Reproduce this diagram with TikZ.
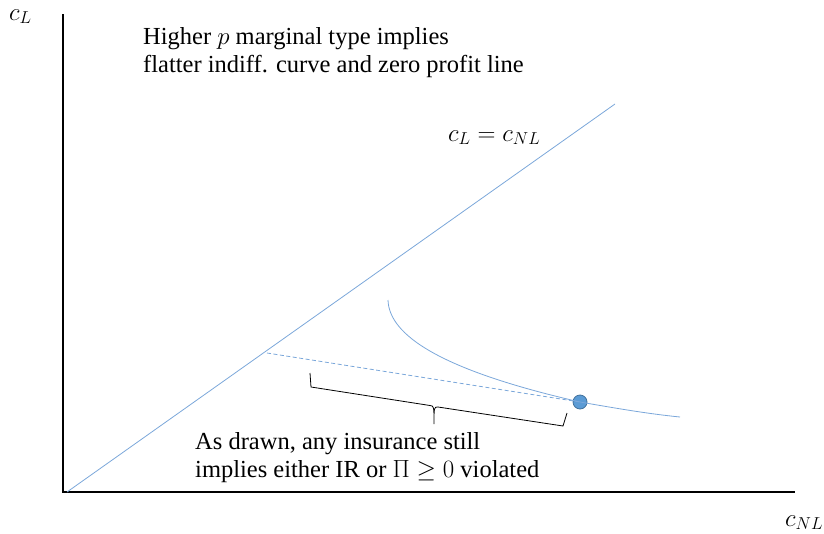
\documentclass[tikz,border=0pt]{standalone}
\usepackage{fontspec}
\setmainfont{Liberation Serif}
\definecolor{lineblue}{RGB}{123,167,218}
\definecolor{dotfill}{RGB}{91,155,213}
\definecolor{dotedge}{RGB}{65,113,156}
\begin{document}
\begin{tikzpicture}[x=1pt,y=-1pt,
  blueline/.style={draw=lineblue, line width=0.8pt},
  axis/.style={draw=black, line width=1.4pt},
  lbl/.style={inner sep=0pt, anchor=base west, font=\fontsize{23.5}{27}\selectfont},
  txt/.style={inner sep=0pt, anchor=base west, align=left, font=\fontsize{24.5}{27.5}\selectfont}]
\useasboundingbox (0,0) rectangle (824,533);
\coordinate (O) at (63,492);
\coordinate (Ytop) at (63,14);
\coordinate (Xend) at (795,492);
\draw[axis] (Ytop) -- (O) -- (Xend);
\coordinate (D0) at (67,492);
\coordinate (D1) at (615,104);
\draw[blueline] (D0) -- (D1);
\coordinate (Z0) at (267,353);
\node[circle, fill=dotfill, draw=dotedge, line width=0.8pt, minimum size=14pt, inner sep=0pt] (dot) at (580,402) {};
\draw[blueline, dash pattern=on 4pt off 2.5pt] (Z0) -- (dot.center);
\coordinate (C0) at (388,300);
\coordinate (C1) at (680,417);
\draw[blueline] (C0) .. controls (389,335) and (440,370) .. (dot.center) .. controls (620,409) and (650,414) .. (C1);
\draw[line width=0.8pt] (310,373) -- (311,387) -- (430,405.5) .. controls (434,406) .. (434,424)
  (434,424) .. controls (434,407) .. (438,407) -- (563,426) -- (567,413);
\node[lbl] (cl) at (9,20) {$c_L$};
\node[lbl] (cnl) at (785,526) {$c_{NL}$};
\node[lbl] (eq) at (448,141) {$c_L = c_{NL}$};
\node[txt] (top) at (143,72) {Higher $p$ marginal type implies\\flatter indiff. curve and zero profit line};
\node[txt] (bot) at (195,477) {As drawn, any insurance still\\implies either IR or $\Pi \geq 0$ violated};
\end{tikzpicture}
\end{document}
